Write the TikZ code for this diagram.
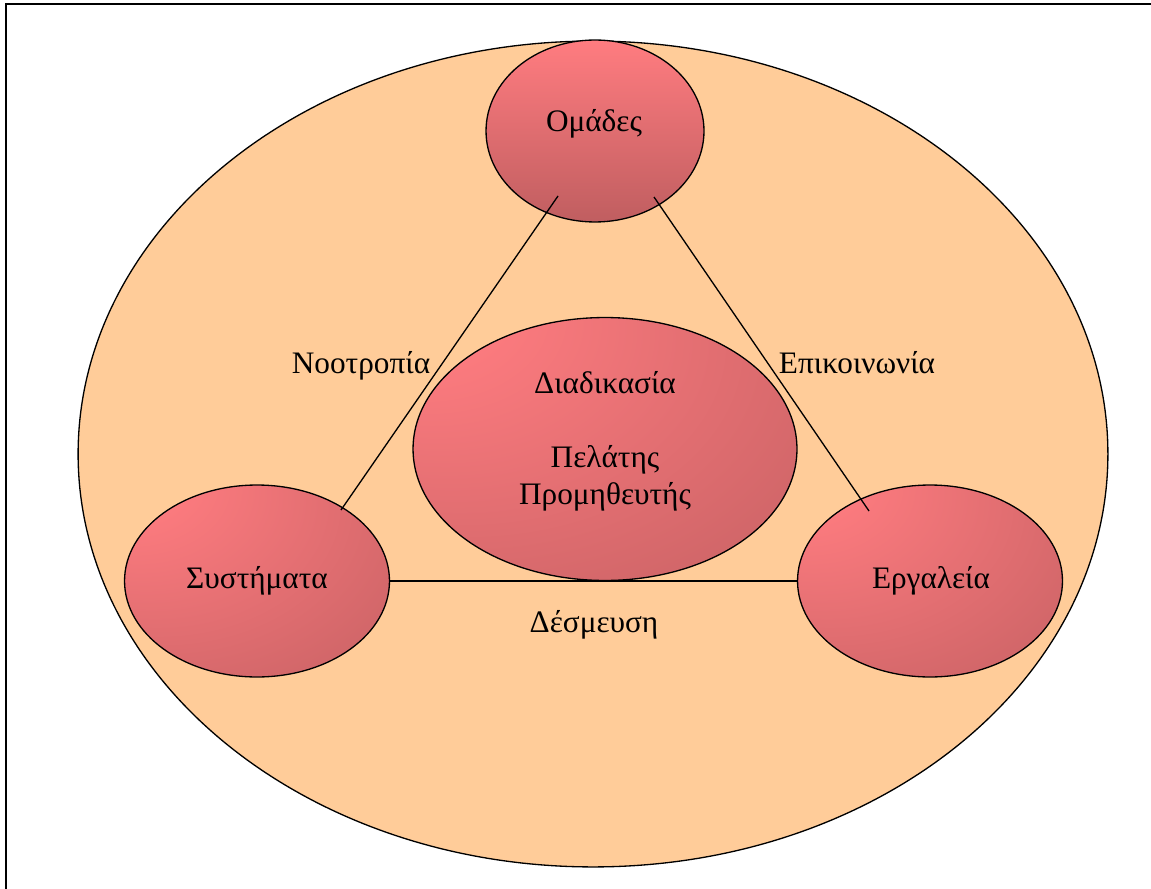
\documentclass[tikz,border=0pt]{standalone}
\usepackage{fontspec}
\setmainfont{Liberation Serif}
\usetikzlibrary{shapes.geometric}
\definecolor{peach}{RGB}{255,204,153}
\definecolor{roselight}{RGB}{255,124,128}
\definecolor{rosedark}{RGB}{192,94,96}
\pgfdeclareradialshading{roseglow}{\pgfpoint{-28bp}{30bp}}{color(0bp)=(roselight); color(8bp)=(roselight); color(62bp)=(rosedark); color(100bp)=(rosedark)}

\begin{document}
\begin{tikzpicture}[x=0.02cm,y=-0.02cm,
    blob/.style={ellipse,draw,line width=0.75pt,inner sep=0pt,shading=roseglow},
    lbl/.style={anchor=base,inner sep=0pt,font=\fontsize{17.8}{21}\selectfont},
    link/.style={line width=0.75pt}]
    \useasboundingbox (0,0) rectangle (1151,888);
    \clip (0,0) rectangle (1151,888);
    \draw[line width=1.2pt] (6,4) rectangle (1200,950);
    % outer field
    \node[ellipse,draw,line width=0.75pt,fill=peach,minimum width=20.6cm,minimum height=16.52cm] (field) at (593,454) {};
    % the four blobs
    \node[blob,top color=roselight,bottom color=rosedark,minimum width=4.36cm,minimum height=3.64cm] (omades) at (595,131) {};
    \node[blob,minimum width=7.68cm,minimum height=5.26cm] (core) at (605,449) {};
    \node[blob,minimum width=5.3cm,minimum height=3.84cm] (systems) at (257,581) {};
    \node[blob,minimum width=5.3cm,minimum height=3.84cm] (tools) at (930,581) {};
    % triangle
    \draw[link] ([shift={(-37,65)}]omades.center) -- ([shift={(84,-71)}]systems.center);
    \draw[link] ([shift={(59,66)}]omades.center) -- ([shift={(-61,-70)}]tools.center);
    \draw[link] (systems.east) -- (tools.west);
    % texts
    \node[lbl] (omadestxt) at (594,132) {Ομάδες};
    \node[lbl] (systemstxt) at (257,588) {Συστήματα};
    \node[lbl] (toolstxt) at (931,588) {Εργαλεία};
    \node[lbl,align=center,anchor=center] (coretxt) at (605,441) {Διαδικασία\\[21pt]Πελάτης\\Προμηθευτής};
    \node[lbl] (mindset) at (361,373) {Νοοτροπία};
    \node[lbl] (talk) at (857,373) {Επικοινωνία};
    \node[lbl] (commit) at (594,632) {Δέσμευση};
\end{tikzpicture}
\end{document}
